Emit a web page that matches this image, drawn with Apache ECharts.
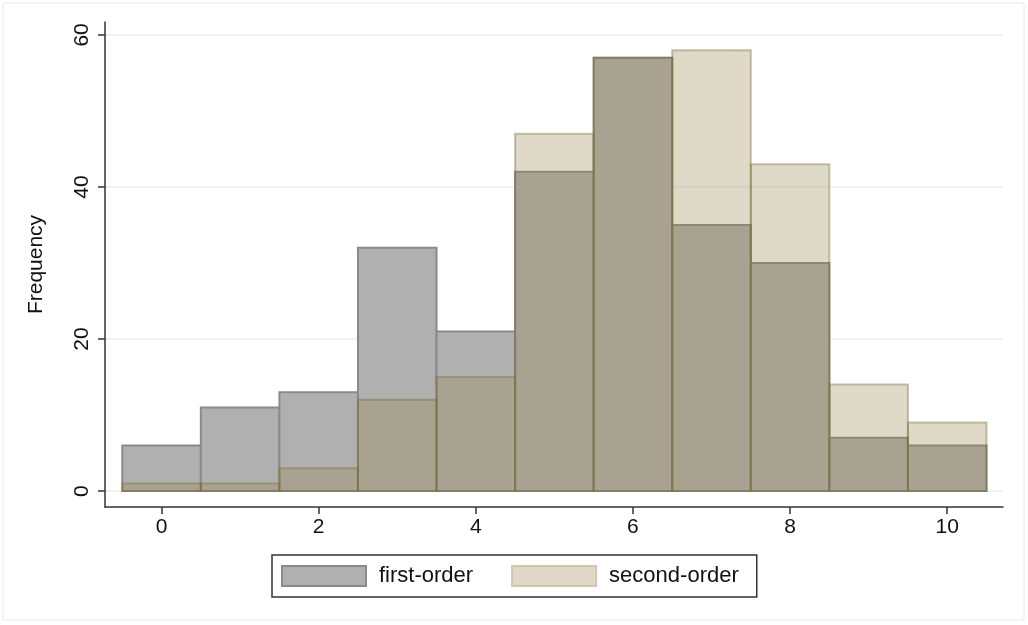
<!DOCTYPE html>
<html><head><meta charset="utf-8">
<script src="https://cdn.jsdelivr.net/npm/echarts@6/dist/echarts.min.js"></script>
<style>html,body{margin:0;padding:0;background:#fff}#c{width:1028px;height:625px}</style>
</head><body><div id="c"></div>
<script>
const bins = [0,1,2,3,4,5,6,7,8,9,10];
const firstOrder = [6,11,13,32,21,42,57,35,30,7,6];
const secondOrder = [1,1,3,12,15,47,57,58,43,14,9];
const xTicks = [0,2,4,6,8,10];
const yTicks = [0,20,40,60];
const seriesNames = ['first-order','second-order'];

const FONT = 'Liberation Sans, Arial, Helvetica, sans-serif';
const chart = echarts.init(document.getElementById('c'));

function makeRender(fill, stroke){
  return function(params, api){
    const x = api.value(0), y = api.value(1);
    const p1 = api.coord([x-0.5, y]);
    const p2 = api.coord([x+0.5, 0]);
    return {type:'rect', shape:{x:p1[0], y:p1[1], width:p2[0]-p1[0], height:p2[1]-p1[1]},
      style:{fill:fill, stroke:stroke, lineWidth:2}};
  };
}
const gFill='#b0b0b0', gStroke='#8a8a8a';
const sFill='rgba(150,130,74,0.3)', sStroke='rgba(120,108,55,0.4)';

chart.setOption({
  backgroundColor:'#fff',
  animation:false,
  graphic:[{type:'rect', shape:{x:3,y:3,width:1021,height:617}, style:{fill:'none', stroke:'#e8e8e8', lineWidth:1}, silent:true}],
  grid:{left:105, right:25, top:22, bottom:118},
  legend:{
    left:272, top:555, orient:'horizontal',
    data:seriesNames, icon:'rect', itemWidth:84, itemHeight:20, itemGap:38,
    borderColor:'#333', borderWidth:1.5, padding:[10,18,10,9],
    textStyle:{fontFamily:FONT, fontSize:22, color:'#111', padding:[0,0,0,8]}
  },
  xAxis:{
    type:'value', min:-0.72, max:10.71,
    axisLine:{show:true, onZero:false, lineStyle:{color:'#333', width:1.5}},
    axisTick:{show:true, customValues:xTicks, length:7, lineStyle:{color:'#333', width:1.5}},
    axisLabel:{customValues:xTicks, fontFamily:FONT, fontSize:21, color:'#111', margin:10},
    splitLine:{show:false}
  },
  yAxis:{
    type:'value', min:-2.1, max:61.7,
    name:'Frequency', nameLocation:'middle', nameGap:58, nameRotate:90,
    nameTextStyle:{fontFamily:FONT, fontSize:21, color:'#111'},
    axisLine:{show:true, onZero:false, lineStyle:{color:'#333', width:1.5}},
    axisTick:{show:true, customValues:yTicks, length:7, lineStyle:{color:'#333', width:1.5}},
    axisLabel:{customValues:yTicks, rotate:90, fontFamily:FONT, fontSize:21, color:'#111', margin:12},
    splitLine:{show:false}
  },
  series:[
    {name:'grid', type:'line', data:[], z:0, silent:true,
     markLine:{silent:true, symbol:'none', label:{show:false}, z:0,
       lineStyle:{color:'#eceef1', width:1.5, type:'solid'},
       data:yTicks.map(v=>({yAxis:v}))}
    },
    {name:seriesNames[0], type:'custom', renderItem:makeRender(gFill,gStroke),
     itemStyle:{color:gFill, borderColor:gStroke, borderWidth:2},
     data:bins.map((b,i)=>[b, firstOrder[i]]), encode:{x:0,y:1}, z:2},
    {name:seriesNames[1], type:'custom', renderItem:makeRender(sFill,sStroke),
     itemStyle:{color:'#dfd9c8', borderColor:'#cfc8ad', borderWidth:2},
     data:bins.map((b,i)=>[b, secondOrder[i]]), encode:{x:0,y:1}, z:3}
  ]
});
</script></body></html>
